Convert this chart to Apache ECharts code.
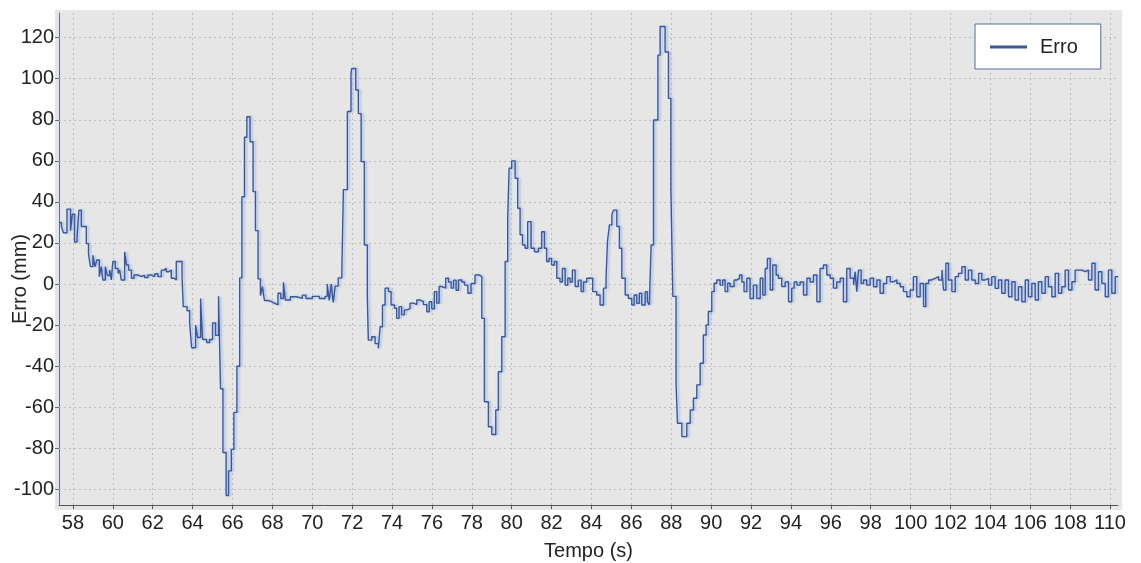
<!DOCTYPE html>
<html><head><meta charset="utf-8">
<script src="https://cdn.jsdelivr.net/npm/echarts@6/dist/echarts.min.js"></script>
<style>html,body{margin:0;padding:0;background:#fff}#c{width:1141px;height:563px}</style>
</head><body><div id="c"></div>
<script>
const seriesName = 'Erro';
const xName = 'Tempo (s)';
const yName = 'Erro (mm)';
const xTicks = [58,60,62,64,66,68,70,72,74,76,78,80,82,84,86,88,90,92,94,96,98,100,102,104,106,108,110];
const yTicks = [-100,-80,-60,-40,-20,0,20,40,60,80,100,120];

const times = [
57.3,57.42,57.52,57.7,57.88,57.97,58.08,58.2,58.3,58.42,58.67,58.78,58.88,59.0,59.1,59.2,59.32,59.42,59.5,59.62,59.72,59.84,59.92,
60.0,60.12,60.26,60.34,60.42,60.59,60.68,60.79,60.93,61.06,61.26,61.43,61.59,61.76,61.93,62.1,62.26,62.43,62.56,62.68,62.8,62.93,63.07,63.18,63.47,
63.53,63.72,63.85,63.95,64.15,64.25,64.4,64.5,64.7,64.85,65.0,65.15,65.3,65.4,65.52,65.68,65.8,65.94,66.07,66.22,66.36,66.47,66.6,66.72,66.88,67.03,67.15,67.28,
67.4,67.5,67.6,67.8,67.95,68.12,68.28,68.42,68.55,68.65,68.9,69.2,69.5,69.68,70.0,70.35,70.64,70.75,70.85,70.95,71.05,71.15,71.3,71.48,
71.56,71.76,71.94,71.98,72.18,72.31,72.45,72.61,72.76,72.81,72.98,73.15,73.31,73.4,73.52,73.65,73.82,73.95,74.12,74.23,74.35,74.48,74.62,74.74,74.9,
75.07,75.24,75.4,75.57,75.74,75.86,75.99,76.12,76.24,76.36,76.49,76.69,76.83,76.96,77.08,77.21,77.33,77.5,77.63,77.8,77.96,78.16,78.38,
78.5,78.63,78.83,79.0,79.2,79.33,79.5,79.67,79.8,79.87,80.0,80.17,80.3,80.42,80.54,80.67,80.8,80.97,81.14,81.34,81.5,81.64,81.75,81.87,82.0,82.14,
82.26,82.42,82.54,82.68,82.81,82.93,83.04,83.18,83.34,83.48,83.6,83.76,84.06,84.26,84.43,84.6,84.73,84.8,84.9,85.02,85.1,85.27,85.4,85.52,85.69,85.85,
86.02,86.14,86.27,86.4,86.52,86.69,86.8,86.9,86.99,87.11,87.33,87.44,87.69,87.86,87.98,88.08,88.24,88.31,88.53,88.78,88.95,89.11,89.28,89.45,89.61,89.75,89.86,
90.03,90.15,90.28,90.45,90.58,90.7,90.83,90.95,91.15,91.29,91.42,91.54,91.65,91.79,91.95,92.12,92.29,92.46,92.59,92.71,92.82,92.96,93.09,93.26,93.37,93.54,93.71,93.88,
94.04,94.16,94.3,94.46,94.63,94.8,94.96,95.13,95.3,95.46,95.63,95.8,95.97,96.13,96.3,96.47,96.63,96.8,96.97,97.14,
97.22,97.3,97.39,97.52,97.64,97.8,97.97,98.14,98.31,98.47,98.64,98.8,98.98,99.14,99.31,99.48,99.64,99.81,99.98,100.14,100.31,100.48,100.65,100.76,100.9,
101.06,101.23,101.4,101.57,101.65,101.77,101.9,102.07,102.24,102.4,102.57,102.74,102.9,103.07,103.24,103.41,103.57,103.74,103.91,104.07,104.24,104.41,104.57,104.74,104.91,
105.08,105.24,105.41,105.58,105.75,105.91,106.08,106.25,106.41,106.58,106.75,106.91,107.08,107.25,107.42,107.58,107.75,107.92,108.09,108.25,108.42,108.59,108.75,108.92,
109.09,109.25,109.42,109.59,109.76,109.92,110.09,110.26,110.4
];
const values = [
30,28,25,36.5,26,34,20.5,22,36,28,19.7,14.6,8.5,14,8.5,11.7,3.6,8.5,2,8.5,4.2,6.8,2,
11,7.6,5.2,6.8,2,15.7,9.3,6.8,2.8,4.4,3.6,4.4,3.2,4.4,3.6,5,3.6,6.8,7.6,6,6.8,2.8,2,11,3.6,
-11,-13,-19,-31,-20,-26,-7,-27,-28.5,-27,-19,-25,-6,-51,-82,-103,-91,-80.5,-62.5,-40,3,42.5,71.5,81.5,69.3,45,26,2.5,
-5.6,-1.3,-8,-8.6,-9.4,-10.2,-4.5,-7,0.8,-7.8,-6.2,-7,-5.4,-7,-6,-7,-6,0,-8,0,-9,-1,3,5.2,
46,84,102.5,105,94.5,83,59.6,19,-6.2,-27.3,-25.7,-29,-31.3,-20.8,-10.2,-2,-3.7,-10.2,-11.8,-16.7,-11,-15,-12.6,-12,-9.3,
-10,-7.8,-8.6,-10,-13.5,-8.6,-12,-3.7,-9.3,-1.2,-2,2.8,1,-2,1.9,-3,2,1,-0.5,-4.5,0.3,4.4,3.5,
-16.7,-57.3,-69.5,-73.3,-61.3,-42.7,-25.7,11,32.8,56.4,60,51.5,36.9,24,19,17.4,30.4,17.4,15.7,17.4,25.5,17.4,11,12.5,9.3,11,
2.8,1,7.6,-0.5,2.8,1,6.8,-1.2,1.9,-3.7,1,2.8,-3.7,-5.3,-10.2,-2,2.8,20.6,28.8,33.7,36,28,17.4,2.8,-5.3,-7,
-10.2,-5.3,-9.4,-4.5,-10.2,-3.7,-8.6,-10.2,19,79.9,111.5,125.4,113,90.4,46.6,-6,-48.3,-67.8,-74.3,-67.8,-61.3,-55.6,-49.1,-38.6,-24.8,-19.9,-13.4,
-3.7,0.4,2,-0.5,2,-3.7,0.4,-1.2,2,2.8,4.4,1,-3.7,2.8,-7,-0.5,-7,2.8,-5.3,7.6,12.5,-2.9,9.3,4.4,2.8,-1.2,1,-8.6,
-2,1,-0.5,1,-5.3,2.8,1,4.4,-8.6,7.6,9.3,4.4,2.8,-2,1,2.8,-8.6,7.6,2.8,-0.5,
6,-3.7,6.8,0.3,2,-0.5,2.8,-1.3,2,-4.5,0.3,3.6,1.1,2,0.3,-1.3,-3.7,-6.2,-2.9,3.6,-6.2,0.3,-11,0.3,2,
2.8,3.6,2,6.8,-2.9,10.1,2,-3.7,3.6,5.2,8.4,2,6.8,2,0.3,5.2,2,2.8,-0.5,3.6,-2.1,2,-4.5,2,-6.2,
1.1,-7.8,-1.3,-8.6,2,-6.2,0.3,-7.8,1.1,-4.5,3.6,-1.3,-6.2,5.2,-4.5,-1.3,6.8,-2.9,1.1,6.8,6.8,6,6.8,2,
10.1,-2.9,6,0.3,-6.2,6.8,-4.5,3.6,3.4
];

const chart = echarts.init(document.getElementById('c'), null, {renderer: 'canvas'});
const font = '"Liberation Sans", Arial, sans-serif';
const data = times.map((t, i) => [t, values[i]]);
const lineColor = '#3b5795';
const gridLineStyle = {color: '#bdbdbd', type: [2, 3], width: 1};
const gridLines = xTicks.map(v => ({xAxis: v})).concat(yTicks.map(v => ({yAxis: v})));

chart.setOption({
  animation: false,
  backgroundColor: '#ffffff',
  textStyle: {fontFamily: font},
  graphic: [{
    type: 'rect', z: -100, silent: true,
    shape: {x: 55, y: 10, width: 1067, height: 500},
    style: {fill: '#e6e6e6'}
  }, {
    type: 'text', z: 100, silent: true,
    x: 20, y: 279, rotation: Math.PI / 2,
    style: {text: yName, fill: '#222', font: '20px ' + font, align: 'center', verticalAlign: 'middle'}
  }],
  grid: {left: 59, right: 23, top: 13, bottom: 58, containLabel: false, outerBoundsMode: 'none'},
  legend: {
    show: true, left: 975, top: 24, orient: 'horizontal',
    backgroundColor: '#ffffff', borderColor: '#5a6f96', borderWidth: 1, borderRadius: 0,
    padding: [13, 23, 12, 15],
    itemWidth: 37, itemHeight: 3, icon: 'rect',
    textStyle: {fontSize: 20, color: '#222', fontFamily: font, padding: [0, 0, 0, 8]},
    data: [seriesName]
  },
  xAxis: {
    type: 'value', min: 57.3, max: 110.4,
    name: xName, nameLocation: 'middle', nameGap: 36,
    nameTextStyle: {fontSize: 20, color: '#222', fontFamily: font},
    axisLine: {show: true, onZero: false, lineStyle: {color: '#555', width: 1}},
    axisTick: {show: true, length: 4, inside: false, customValues: xTicks, lineStyle: {color: '#555'}},
    axisLabel: {customValues: xTicks, fontSize: 20, color: '#222', margin: 8, fontFamily: font},
    splitLine: {show: false}
  },
  yAxis: {
    type: 'value', min: -107.6, max: 132,
    axisLine: {show: true, onZero: false, lineStyle: {color: '#5b6f8f', width: 1}},
    axisTick: {show: true, length: 4, inside: false, customValues: yTicks, lineStyle: {color: '#5b6f8f'}},
    axisLabel: {customValues: yTicks, fontSize: 20, color: '#222', margin: 5, fontFamily: font},
    splitLine: {show: false}
  },
  series: [{
    type: 'line', name: seriesName, data: data, step: 'end', z: 3,
    symbol: 'none', showSymbol: false,
    lineStyle: {color: lineColor, width: 1.4, shadowColor: 'rgba(160,188,240,0.95)', shadowBlur: 2, shadowOffsetX: 2},
    itemStyle: {color: lineColor},
    markLine: {
      silent: true, z: 1, animation: false, symbol: ['none', 'none'],
      label: {show: false}, lineStyle: gridLineStyle,
      emphasis: {disabled: true},
      data: gridLines
    }
  }]
});
</script>
</body></html>
